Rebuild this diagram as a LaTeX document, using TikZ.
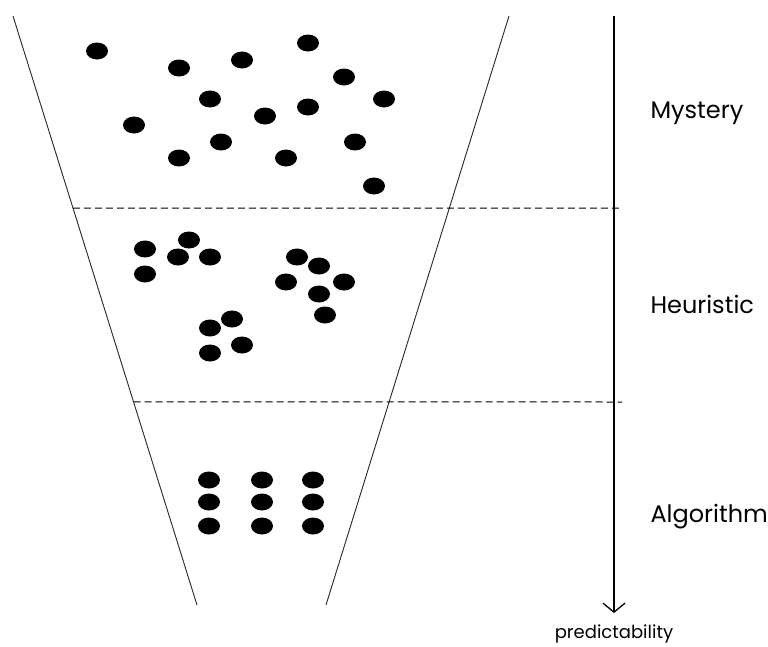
\documentclass[tikz,border=0pt]{standalone}
\usepackage{fontspec}
\setmainfont{Poppins}
\usetikzlibrary{arrows.meta,calc}
\tikzset{
  dot/.style={fill=black},
  funnel/.style={line width=0.9pt,black!85},
  level/.style={dash pattern=on 7pt off 4pt,line width=1pt,black},
  levellabel/.style={anchor=base west,font=\fontsize{24}{28}\selectfont},
}
\begin{document}
\begin{tikzpicture}[x=1pt,y=-1pt,>={Straight Barb[length=9pt,width=22pt]}]
  \useasboundingbox (0,0) rectangle (768,646);
  % funnel
  \coordinate (TL) at (13,16);
  \coordinate (BL) at (197,605);
  \coordinate (TR) at (509,16);
  \coordinate (BR) at (326,605);
  \draw[funnel] (TL) -- (BL);
  \draw[funnel] (TR) -- (BR);
  % levels
  \coordinate (A1) at ($(TL)!0.326!(BL)$);
  \coordinate (A2) at ($(TL)!0.655!(BL)$);
  \draw[level] (A1) -- (622,208);
  \draw[level] (A2) -- (622,402);
  % predictability axis
  \coordinate (P0) at (614,16);
  \coordinate (P1) at (614,613);
  \draw[->,line width=1.3pt] (P0) -- (P1);
  \node[font=\fontsize{18}{20}\selectfont] (pred) at (614,634) {predictability};
  \node[levellabel] (mystery) at (647,118) {Mystery};
  \node[levellabel] (heuristic) at (647,313) {Heuristic};
  \node[levellabel] (algorithm) at (647,522) {Algorithm};
  % mystery dots
  \foreach \x/\y in {97/51, 179/68, 242/60, 308/43, 344/77, 384/99, 210/99,
      265/116, 308/107, 134/125, 221/142, 355/142, 179/158, 286/158, 374/186}
    \fill[dot] (\x,\y) ellipse (11pt and 8.5pt);
  % heuristic dots
  \foreach \x/\y in {145/249, 189/240, 178/257, 210/257, 145/274,
      297/257, 319/266, 286/282, 344/282, 319/294, 325/315,
      232/319, 210/328, 242/345, 210/353}
    \fill[dot] (\x,\y) ellipse (11pt and 8.5pt);
  % algorithm dots
  \foreach \x in {209,262,313}
    \foreach \y in {480,502,526}
      \fill[dot] (\x,\y) ellipse (11pt and 8.5pt);
\end{tikzpicture}
\end{document}
